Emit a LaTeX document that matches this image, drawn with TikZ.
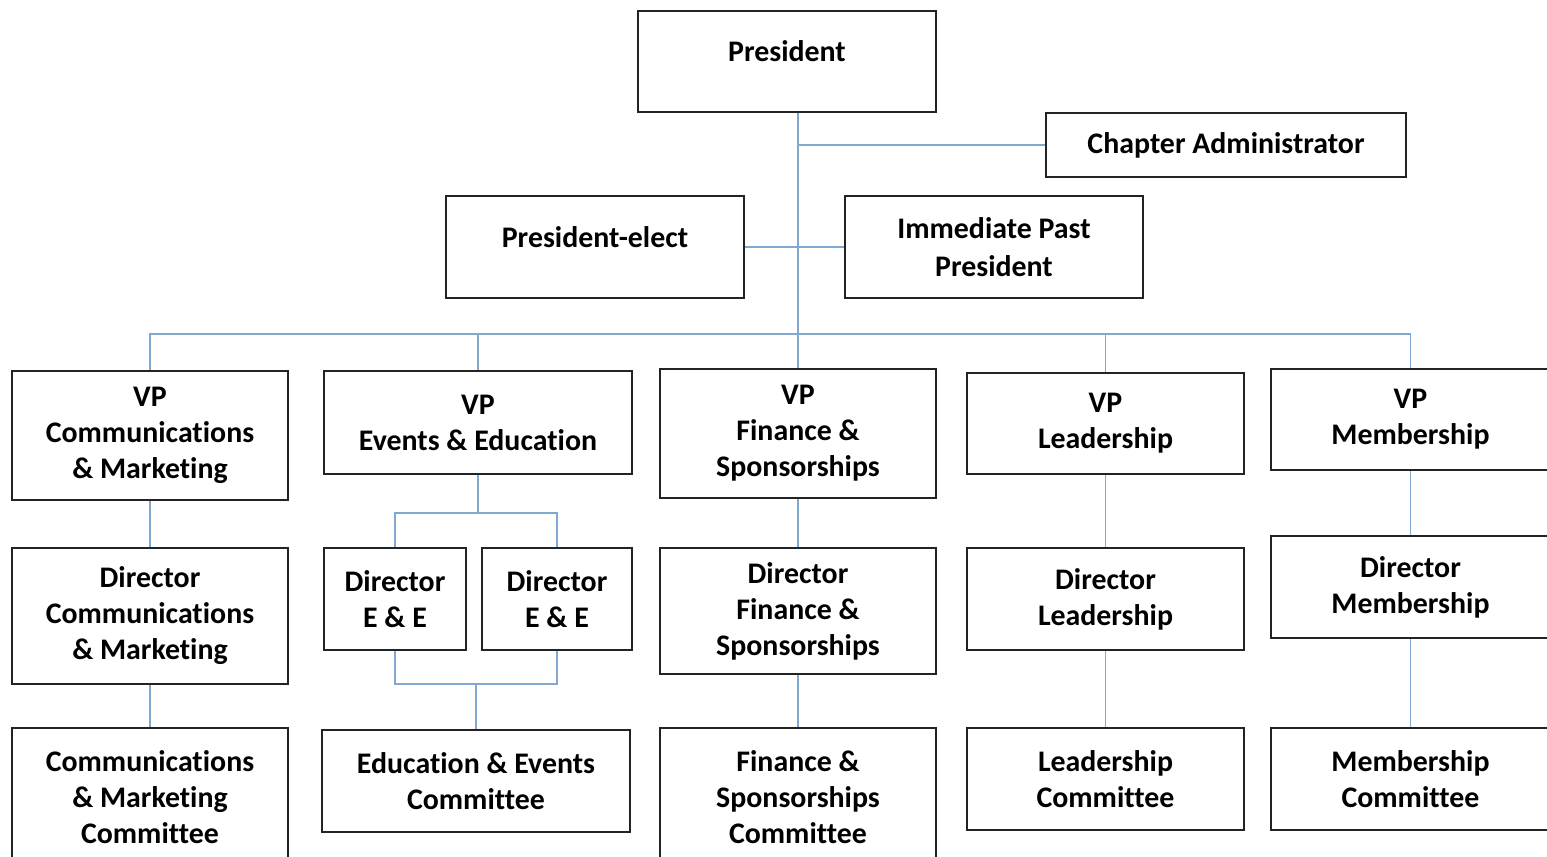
\documentclass[tikz,border=0pt]{standalone}
\usepackage{fontspec}
\setmainfont{Carlito}[Ligatures=NoCommon]
\definecolor{linkblue}{RGB}{128,168,208}
\definecolor{boxgray}{RGB}{35,35,35}
\begin{document}
\begin{tikzpicture}[x=0.02cm, y=-0.02cm,
        box/.style={draw=boxgray, line width=1.1pt, rectangle, align=center, inner sep=0pt,
            font=\bfseries\fontsize{17}{20.5}\selectfont},
        upper/.style={text depth=0.4cm},
        link/.style={draw=linkblue, line width=0.9pt}]
        \useasboundingbox (0, 0) rectangle (1547, 856);
        % top of the chart
        \node[box, upper, minimum width=5.96cm, minimum height=2.02cm] (pres) at (787, 61.5) {President};
        \node[box, minimum width=7.2cm, minimum height=1.28cm] (admin) at (1226, 145) {Chapter Administrator};
        \node[box, upper, minimum width=5.96cm, minimum height=2.04cm] (elect) at (595, 247) {President-elect};
        \node[box, minimum width=5.96cm, minimum height=2.04cm] (past) at (994, 247) {Immediate Past\\[1.5pt]President};
        % vice presidents
        \node[box, minimum width=5.52cm, minimum height=2.58cm] (vpcom) at (150, 435.5) {VP\\Communications\\\& Marketing};
        \node[box, minimum width=6.16cm, minimum height=2.06cm] (vpev) at (478, 422.5) {VP\\Events \& Education};
        \node[box, minimum width=5.52cm, minimum height=2.58cm] (vpfin) at (798, 433.5) {VP\\Finance \&\\Sponsorships};
        \node[box, minimum width=5.54cm, minimum height=2.02cm] (vplead) at (1105.5, 423.5) {VP\\Leadership};
        \node[box, minimum width=5.58cm, minimum height=2.02cm] (vpmem) at (1410.5, 419.5) {VP\\Membership};
        % directors
        \node[box, minimum width=5.52cm, minimum height=2.72cm] (dircom) at (150, 616) {Director\\Communications\\\& Marketing};
        \node[box, minimum width=2.84cm, minimum height=2.04cm] (direa) at (395, 599) {Director\\E \& E};
        \node[box, minimum width=3.0cm, minimum height=2.04cm] (direb) at (557, 599) {Director\\E \& E};
        \node[box, minimum width=5.52cm, minimum height=2.52cm] (dirfin) at (798, 611) {Director\\Finance \&\\Sponsorships};
        \node[box, minimum width=5.54cm, minimum height=2.04cm] (dirlead) at (1105.5, 599) {Director\\Leadership};
        \node[box, minimum width=5.58cm, minimum height=2.04cm] (dirmem) at (1410.5, 587) {Director\\Membership};
        % committees
        \node[box, minimum width=5.52cm, minimum height=2.76cm] (comcom) at (150, 797) {Communications\\\& Marketing\\Committee};
        \node[box, minimum width=6.16cm, minimum height=2.04cm] (comev) at (476, 781) {Education \& Events\\Committee};
        \node[box, minimum width=5.52cm, minimum height=2.76cm] (comfin) at (798, 797) {Finance \&\\Sponsorships\\Committee};
        \node[box, minimum width=5.54cm, minimum height=2.04cm] (comlead) at (1105.5, 779) {Leadership\\Committee};
        \node[box, minimum width=5.58cm, minimum height=2.04cm] (commem) at (1410.5, 779) {Membership\\Committee};
        % connectors
        \coordinate (bus) at (0, 334);
        \draw[link] (vpfin.north |- pres.south) -- (vpfin.north);
        \draw[link] (vpfin.north |- admin.west) -- (admin.west);
        \draw[link] (elect.east) -- (past.west);
        \draw[link] (vpcom.north) -- (vpcom.north |- bus) -- (vpmem.north |- bus) -- (vpmem.north);
        \draw[link] (vpev.north |- bus) -- (vpev.north);
        \draw[link] (vplead.north |- bus) -- (vplead.north);
        \draw[link] (vpcom.south) -- (dircom.north);
        \draw[link] (dircom.south) -- (comcom.north);
        \draw[link] (vpev.south) -- ++(0, 38) coordinate (evtop);
        \draw[link] (direa.north) |- (evtop) -| (direb.north);
        \draw[link] (direa.south) |- (comev.north |- 0, 684) coordinate (evbot) -| (direb.south);
        \draw[link] (evbot) -- (comev.north);
        \draw[link] (vpfin.south) -- (dirfin.north);
        \draw[link] (dirfin.south) -- (comfin.north);
        \draw[link] (vplead.south) -- (dirlead.north);
        \draw[link] (dirlead.south) -- (comlead.north);
        \draw[link] (vpmem.south) -- (dirmem.north);
        \draw[link] (dirmem.south) -- (commem.north);
\end{tikzpicture}
\end{document}
